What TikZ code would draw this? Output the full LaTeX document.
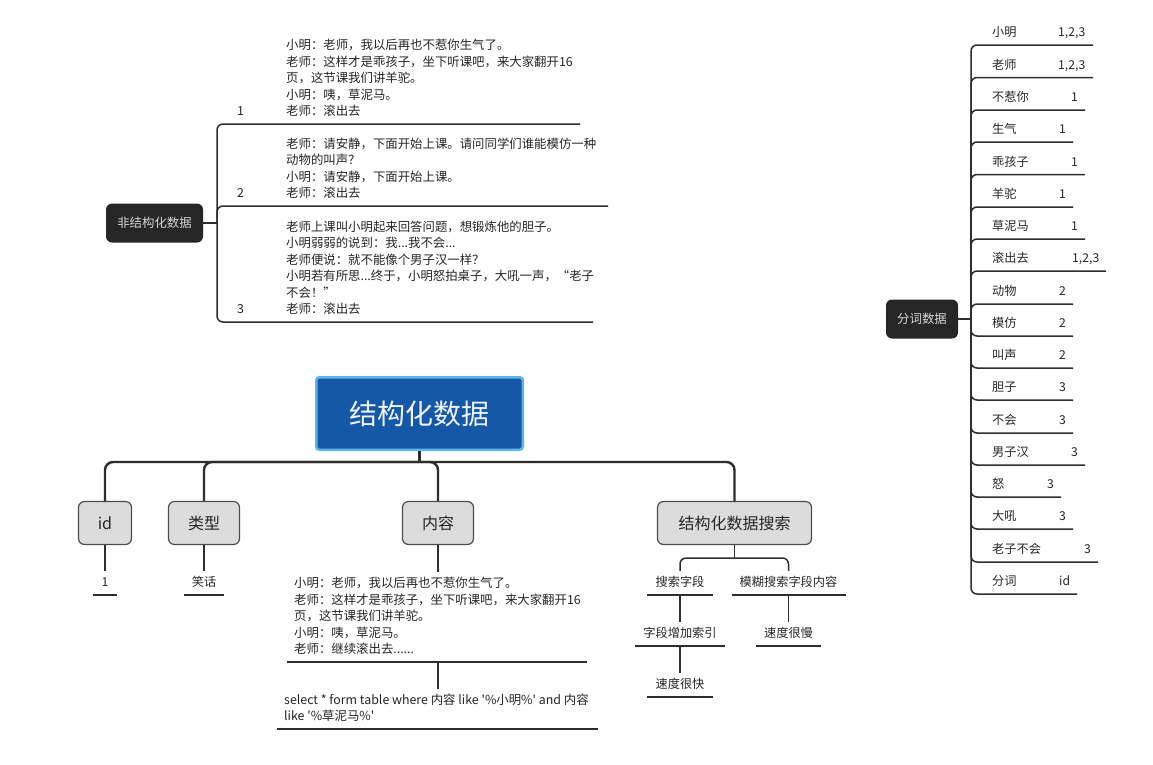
\documentclass[tikz,border=0pt]{standalone}
\usepackage{fontspec}
\newfontfamily\cjk{Noto Sans CJK SC}
\definecolor{ink}{HTML}{262626}
\definecolor{linec}{HTML}{2E2E2E}
\definecolor{darkbox}{HTML}{262626}
\definecolor{darktext}{HTML}{D6D6D6}
\definecolor{graybox}{HTML}{DCDCDC}
\definecolor{grayedge}{HTML}{4D4D4D}
\definecolor{titlefill}{HTML}{1558A8}
\definecolor{titleedge}{HTML}{5DB6EA}
\definecolor{titletext}{HTML}{EEF3FA}
\tikzset{
  txt/.style={inner sep=0pt, anchor=base west, text=ink, font=\cjk\fontsize{12.4}{16.5}\selectfont},
  wtxt/.style={inner sep=0pt, anchor=base west, text=ink, font=\cjk\fontsize{12.2}{14}\selectfont},
  leaf/.style={inner xsep=8pt, inner ysep=5.5pt, text height=10pt, text depth=3pt, anchor=base, text=ink, font=\cjk\fontsize{12.2}{14}\selectfont},
  darknode/.style={fill=darkbox, rounded corners=6pt, text=darktext, font=\cjk\fontsize{12.4}{14}\selectfont, minimum height=39pt, inner sep=0pt},
  graynode/.style={fill=graybox, draw=grayedge, line width=1.2pt, rounded corners=6pt, text=ink, font=\cjk\fontsize{16}{18}\selectfont, minimum height=43pt, inner sep=0pt},
  titlenode/.style={fill=titlefill, draw=titleedge, line width=2.5pt, rounded corners=3pt, text=titletext, font=\cjk\fontsize{28}{32}\selectfont, minimum width=206.5pt, minimum height=72.5pt, inner sep=0pt},
  conn/.style={draw=linec, line width=1.5pt, rounded corners=6pt},
  stub/.style={draw=linec, line width=1.5pt},
  mainconn/.style={draw=linec, line width=2.4pt, rounded corners=8pt},
  mainstub/.style={draw=linec, line width=2.4pt},
}
\newcommand{\wordrow}[6]{%
  \coordinate (#1e) at (#5,#6);
  \node[wtxt] (#1) at (992,#6-8.5) {\makebox[\dimexpr #4pt-992pt\relax][l]{#2}#3};
  \draw[conn] (rj) |- (#1e);
}
\begin{document}
\begin{tikzpicture}[x=1pt,y=-1pt]
\useasboundingbox[fill=white] (0,0) rectangle (1153,764);

% ---------- 非结构化数据 ----------
\node[darknode, minimum width=97pt] (uns) at (154.5,223) {非结构化数据};
\coordinate (lj) at (217,223);
\draw[stub] (uns.east) -- (lj);
\coordinate (e1) at (580,124);
\coordinate (e2) at (608,206);
\coordinate (e3) at (593,322);
\draw[conn] (lj) |- (e1);
\draw[conn] (lj) |- (e2);
\draw[conn] (lj) |- (e3);
\node[txt] (n1) at (237,115.5) {1};
\node[txt] (n2) at (237,197.5) {2};
\node[txt] (n3) at (237,313.5) {3};
\node[txt] (t1) at (286,115.5) {\parbox[b]{330pt}{小明：老师，我以后再也不惹你生气了。\\老师：这样才是乖孩子，坐下听课吧，来大家翻开16\\页，这节课我们讲羊驼。\\小明：咦，草泥马。\\老师：滚出去}};
\node[txt] (t2) at (286,197.5) {\parbox[b]{330pt}{老师：请安静，下面开始上课。请问同学们谁能模仿一种\\动物的叫声？\\小明：请安静，下面开始上课。\\老师：滚出去}};
\node[txt] (t3) at (286,313.5) {\parbox[b]{330pt}{老师上课叫小明起来回答问题，想锻炼他的胆子。\\小明弱弱的说到：我...我不会...\\老师便说：就不能像个男子汉一样？\\小明若有所思...终于，小明怒拍桌子，大吼一声，“老子\\不会！”\\老师：滚出去}};

% ---------- 分词数据 ----------
\node[darknode, minimum width=72pt] (seg) at (922,319) {分词数据};
\coordinate (rj) at (971,319);
\draw[stub] (seg.east) -- (rj);
\wordrow{wa}{小明}{1,2,3}{1058}{1093}{45}
\wordrow{wb}{老师}{1,2,3}{1058}{1093}{77.5}
\wordrow{wc}{不惹你}{1}{1071}{1085}{110}
\wordrow{wd}{生气}{1}{1059}{1073}{142}
\wordrow{we}{乖孩子}{1}{1071}{1085}{174.5}
\wordrow{wf}{羊驼}{1}{1059}{1073}{207}
\wordrow{wg}{草泥马}{1}{1071}{1085}{239}
\wordrow{wh}{滚出去}{1,2,3}{1072}{1106}{271}
\wordrow{wi}{动物}{2}{1059}{1073}{304}
\wordrow{wj}{模仿}{2}{1059}{1073}{336}
\wordrow{wk}{叫声}{2}{1059}{1073}{368}
\wordrow{wl}{胆子}{3}{1059}{1073}{400}
\wordrow{wm}{不会}{3}{1059}{1073}{433}
\wordrow{wn}{男子汉}{3}{1071}{1085}{465}
\wordrow{wo}{怒}{3}{1047}{1061}{497}
\wordrow{wp}{大吼}{3}{1059}{1073}{529}
\wordrow{wq}{老子不会}{3}{1084}{1098}{562}
\wordrow{wr}{分词}{id}{1059}{1077}{594}

% ---------- 结构化数据 ----------
\node[titlenode] (ttl) at (419.5,413.5) {结构化数据};
\node[graynode, minimum width=53pt] (nid) at (105,523) {id};
\node[graynode, minimum width=71pt] (ntype) at (204,523) {类型};
\node[graynode, minimum width=71pt] (ncont) at (438,523) {内容};
\node[graynode, minimum width=154pt] (nsrch) at (734.5,523) {结构化数据搜索};
\coordinate (jn) at (419.5,462);
\draw[mainstub] (ttl.south) -- (jn);
\draw[mainconn] (jn) -| (nid.north);
\draw[mainconn] (jn) -| (ntype.north);
\draw[mainconn] (jn) -| (ncont.north);
\draw[mainconn] (jn) -| (nsrch.north);

% id / 类型 leaves
\node[leaf] (c1) at (105,586.5) {1};
\node[leaf] (c2) at (204,586.5) {笑话};
\draw[conn] (nid.south) -- (c1.north);
\draw[conn] (ntype.south) -- (c2.north);
\draw[conn] (c1.south west) -- (c1.south east);
\draw[conn] (c2.south west) -- (c2.south east);

% 内容 leaves
\coordinate (cbtop) at (438,572);
\node[txt] (cb) at (294,653.5) {\parbox[b]{320pt}{小明：老师，我以后再也不惹你生气了。\\老师：这样才是乖孩子，坐下听课吧，来大家翻开16\\页，这节课我们讲羊驼。\\小明：咦，草泥马。\\老师：继续滚出去......}};
\draw[conn] (ncont.south) -- (cbtop);
\coordinate (cbl) at (287,662);
\coordinate (cbr) at (587,662);
\coordinate (cbm) at (438,662);
\draw[conn] (cbl) -- (cbr);
\coordinate (sqtop) at (438,689);
\draw[conn] (cbm) -- (sqtop);
\node[txt] (sq) at (284,720.5) {\parbox[b]{330pt}{select * form table where 内容 like '\%小明\%' and 内容\\like '\%草泥马\%'}};
\coordinate (sql) at (277,729);
\coordinate (sqr) at (598,729);
\draw[conn] (sql) -- (sqr);

% 搜索 leaves
\coordinate (sj) at (734.5,558);
\draw[stub] (nsrch.south) -- (sj);
\node[leaf] (s1) at (680,586.5) {搜索字段};
\node[leaf] (s2) at (788.5,586.5) {模糊搜索字段内容};
\draw[conn] (sj) -| (s1.north);
\draw[conn] (sj) -| (s2.north);
\draw[conn] (s1.south west) -- (s1.south east);
\draw[conn] (s2.south west) -- (s2.south east);
\node[leaf] (s3) at (680,637.5) {字段增加索引};
\node[leaf] (s5) at (788.5,637.5) {速度很慢};
\draw[conn] (s1.south) -- (s3.north);
\draw[conn] (s2.south) -- (s5.north);
\draw[conn] (s3.south west) -- (s3.south east);
\draw[conn] (s5.south west) -- (s5.south east);
\node[leaf] (s4) at (680,688.5) {速度很快};
\draw[conn] (s3.south) -- (s4.north);
\draw[conn] (s4.south west) -- (s4.south east);
\end{tikzpicture}
\end{document}
